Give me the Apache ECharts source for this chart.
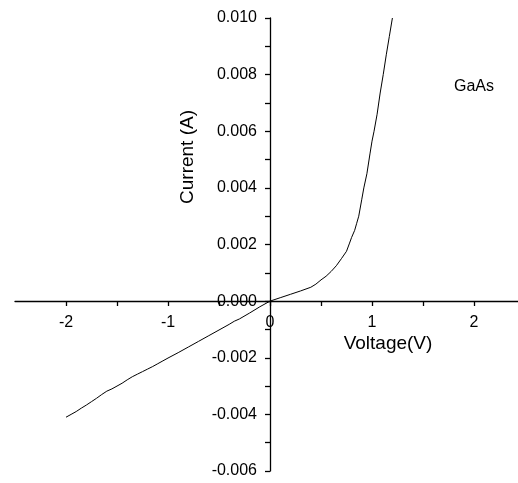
<!DOCTYPE html>
<html>
<head>
<meta charset="utf-8">
<script src="https://cdn.jsdelivr.net/npm/echarts@6/dist/echarts.min.js"></script>
<style>html,body{margin:0;padding:0;background:#fff;}#c{width:518px;height:483px;}</style>
</head>
<body>
<div id="c"></div>
<script>
const voltage = [-2.00,-1.95,-1.90,-1.85,-1.80,-1.75,-1.70,-1.65,-1.60,-1.55,-1.50,-1.45,-1.40,-1.35,-1.30,-1.25,-1.20,-1.15,-1.10,-1.05,-1.00,-0.90,-0.80,-0.70,-0.60,-0.50,-0.40,-0.35,-0.30,-0.20,-0.10,0.00,0.10,0.20,0.30,0.40,0.45,0.50,0.55,0.60,0.65,0.70,0.75,0.78,0.80,0.83,0.85,0.87,0.90,0.92,0.95,0.98,1.00,1.02,1.05,1.08,1.11,1.14,1.17,1.20];
const current = [-0.00410,-0.00400,-0.00390,-0.00378,-0.00367,-0.00355,-0.00343,-0.00330,-0.00318,-0.00310,-0.00300,-0.00290,-0.00278,-0.00267,-0.00258,-0.00249,-0.00240,-0.00231,-0.00221,-0.00211,-0.00201,-0.00182,-0.00162,-0.00142,-0.00122,-0.00102,-0.00082,-0.00071,-0.00063,-0.00042,-0.00020,0,0.00012,0.00024,0.00036,0.00049,0.00060,0.00075,0.00088,0.00105,0.00125,0.00150,0.00176,0.00205,0.00225,0.00250,0.00275,0.00300,0.00360,0.00400,0.00450,0.00520,0.00565,0.00600,0.00660,0.00735,0.00800,0.00870,0.00935,0.01000];
const xTitle = 'Voltage(V)';
const yTitle = 'Current (A)';
const sampleLabel = 'GaAs';

const chart = echarts.init(document.getElementById('c'), null, {renderer:'canvas'});
const font = 'Liberation Sans, Arial, sans-serif';
chart.setOption({
  animation:false,
  backgroundColor:'#fff',
  grid:{left:15, right:-7, top:18, bottom:12, containLabel:false, outerBoundsMode:'none'},
  xAxis:{
    type:'value', min:-2.5, max:2.5, interval:0.5, position:'bottom', offset:-170,
    axisLine:{onZero:false, lineStyle:{color:'#000', width:1.3}},
    axisTick:{show:true, length:5, lineStyle:{color:'#000', width:1.3}},
    axisLabel:{color:'#000', fontFamily:font, fontSize:16, margin:14,
      formatter:v=> Number.isInteger(Math.round(v*1000)/1000) ? String(Math.round(v)) : '', showMinLabel:false, showMaxLabel:false},
    splitLine:{show:false}
  },
  yAxis:{
    type:'value', min:-0.006, max:0.010, interval:0.002, position:'left', offset:-255,
    axisLine:{onZero:false, lineStyle:{color:'#000', width:1.3}},
    axisTick:{show:true, length:5, lineStyle:{color:'#000', width:1.3}},
    minorTick:{show:true, splitNumber:2, length:5, lineStyle:{color:'#000', width:1.3}},
    axisLabel:{color:'#000', fontFamily:font, fontSize:16, margin:13, formatter:v=>v.toFixed(3)},
    splitLine:{show:false}
  },
  graphic:[
    {type:'text', x:388, y:344, style:{text:xTitle, font:'19px '+font, fill:'#000', align:'center', verticalAlign:'middle'}},
    {type:'text', x:188, y:157, rotation:Math.PI/2, style:{text:yTitle, font:'19px '+font, fill:'#000', align:'center', verticalAlign:'middle'}},
    {type:'text', x:474, y:87, style:{text:sampleLabel, font:'16px '+font, fill:'#000', align:'center', verticalAlign:'middle'}}
  ],
  series:[{type:'line', data:voltage.map((v,i)=>[v,current[i]]), showSymbol:false, symbol:'none',
    lineStyle:{color:'#000', width:1}, smooth:false}]
});
</script>
</body>
</html>
